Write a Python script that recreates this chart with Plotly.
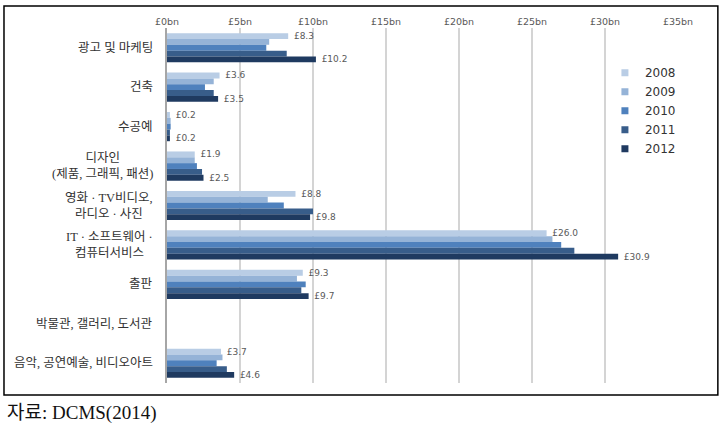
import plotly.graph_objects as go

categories = [
    "광고 및 마케팅",
    "건축",
    "수공예",
    "디자인<br>(제품, 그래픽, 패션)",
    "영화 · TV비디오,<br>라디오 · 사진",
    "IT · 소프트웨어 ·<br>컴퓨터서비스",
    "출판",
    "박물관, 갤러리, 도서관",
    "음악, 공연예술, 비디오아트",
]
years = ["2008", "2009", "2010", "2011", "2012"]
v2008 = [8.3, 3.6, 0.2, 1.9, 8.8, 26.0, 9.3, None, 3.7]
v2009 = [7.0, 3.2, 0.25, 1.9, 6.9, 26.4, 8.9, None, 3.8]
v2010 = [6.8, 2.6, 0.25, 2.05, 8.0, 27.0, 9.5, None, 3.4]
v2011 = [8.2, 3.2, 0.2, 2.4, 10.0, 27.9, 9.2, None, 4.1]
v2012 = [10.2, 3.5, 0.2, 2.5, 9.8, 30.9, 9.7, None, 4.6]
series = [v2008, v2009, v2010, v2011, v2012]
labeled = {"2008", "2012"}
colors = ["#b9cde5", "#95b3d7", "#4f81bd", "#385d8a", "#1f3a60"]

tickvals = [0, 5, 10, 15, 20, 25, 30, 35]
ticktext = ["£0bn", "£5bn", "£10bn", "£15bn", "£20bn", "£25bn", "£30bn", "£35bn"]

fig = go.Figure()
for yr, vals, col in zip(years, series, colors):
    txt = None
    if yr in labeled:
        txt = [("  £%.1f" % v) if v is not None else "" for v in vals]
    fig.add_trace(go.Bar(
        y=categories, x=vals, name=yr, orientation="h",
        marker=dict(color=col, line=dict(width=0)),
        text=txt, textposition="outside", constraintext="none",
        textfont=dict(size=9, color="#595959", family="DejaVu Sans"),
        cliponaxis=False, showlegend=False,
    ))
    # small square legend entry
    fig.add_trace(go.Scatter(
        x=[None], y=[None], mode="markers", name=yr,
        marker=dict(symbol="square", size=7, color=col),
        showlegend=True, hoverinfo="skip",
    ))

# category labels
for c in categories:
    fig.add_annotation(
        x=0, xref="paper", y=c, yref="y", text=c, showarrow=False,
        xanchor="right", xshift=-12, align="center",
        font=dict(size=12.5, color="#333333", family="Liberation Serif, Noto Sans CJK KR"),
    )

# outer border
fig.add_shape(type="rect", xref="paper", yref="paper",
              x0=-0.319, x1=1.078, y0=-0.034, y1=1.062,
              line=dict(color="black", width=1.5))

fig.add_annotation(
    x=-0.317, xref="paper", y=-0.085, yref="paper", text="자료: DCMS(2014)",
    showarrow=False, xanchor="left", yanchor="middle",
    font=dict(size=19, color="#111111", family="Liberation Serif, Noto Sans CJK KR"),
)

fig.update_layout(
    width=721, height=429,
    margin=dict(l=167, r=43, t=28, b=46),
    paper_bgcolor="white", plot_bgcolor="white",
    barmode="group", bargap=0.26, bargroupgap=0,
    showlegend=True,
    legend=dict(x=0.857, y=0.915, xanchor="left", yanchor="top",
                font=dict(size=12, color="#333333", family="DejaVu Sans"),
                bgcolor="rgba(0,0,0,0)", tracegroupgap=0, itemwidth=30),
    xaxis=dict(side="top", range=[0, 35], tickvals=tickvals, ticktext=ticktext,
               showgrid=True, gridcolor="#d4d4d4", gridwidth=1.5,
               zeroline=False, showline=False, ticks="",
               tickfont=dict(size=9.5, color="#595959", family="DejaVu Sans")),
    yaxis=dict(autorange="reversed", showticklabels=False, showgrid=False,
               showline=True, linecolor="#a6a6a6", linewidth=1.5, ticks="",
               zeroline=False),
    font=dict(family="Liberation Sans"),
)

fig.write_html("out.html", config={"displayModeBar": False},
               post_script="document.body.style.margin='0';")
